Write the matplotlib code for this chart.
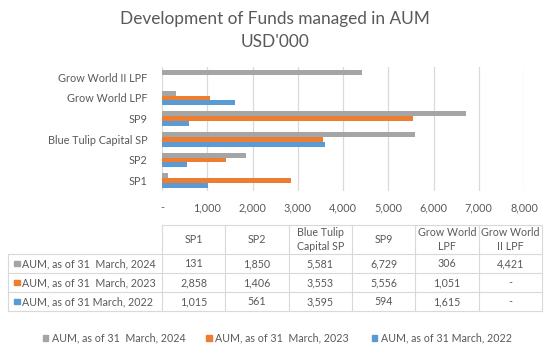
import matplotlib
matplotlib.use("Agg")
import matplotlib.pyplot as plt
from matplotlib.patches import Rectangle
import numpy as np

plt.rcParams['font.family'] = ['Lato', 'DejaVu Sans']

categories = ["SP1", "SP2", "Blue Tulip Capital SP", "SP9", "Grow World LPF", "Grow World II LPF"]
table_headers = ["SP1", "SP2", "Blue Tulip\nCapital SP", "SP9", "Grow World\nLPF", "Grow World\nII LPF"]
series_names = ["AUM, as of 31  March, 2024", "AUM, as of 31  March, 2023", "AUM, as of 31 March, 2022"]
aum_2024 = [131, 1850, 5581, 6729, 306, 4421]
aum_2023 = [2858, 1406, 3553, 5556, 1051, None]
aum_2022 = [1015, 561, 3595, 594, 1615, None]
colors = ["#A5A5A5", "#ED7D31", "#5B9BD5"]
xticks = [0, 1000, 2000, 3000, 4000, 5000, 6000, 7000, 8000]

series = [aum_2024, aum_2023, aum_2022]
TXT = "#595959"
GRID = "#D9D9D9"
W, H = 550, 351

fig = plt.figure(figsize=(W / 100, H / 100), dpi=100)

# main bar axes (pixel layout)
x0, x1, y0, y1 = 162, 524, 67, 191
ax = fig.add_axes([x0 / W, 1 - y1 / H, (x1 - x0) / W, (y1 - y0) / H])
y = np.arange(len(categories))
bh = 0.24
offsets = [bh, 0, -bh]
for vals, c, off in zip(series, colors, offsets):
    v = [0 if a is None else a for a in vals]
    ax.barh(y + off, v, height=bh, color=c, zorder=3)
ax.set_xlim(0, 8000)
ax.set_ylim(-0.5, len(categories) - 0.5)
ax.set_xticks(xticks)
ax.set_xticklabels(["-" if t == 0 else f"{t:,}" for t in xticks])
ax.set_yticks(y)
ax.set_yticklabels(categories)
ax.tick_params(axis='both', length=0, labelsize=7.8, colors=TXT)
ax.tick_params(axis='y', pad=10.5)
ax.tick_params(axis='x', pad=8)
ax.grid(axis='x', color=GRID, linewidth=0.9, zorder=0)
for s in ax.spines.values():
    s.set_visible(False)

# title
tcx = 275 / W
fig.text(tcx, 1 - 19 / H, "Development of Funds managed in AUM", ha='center', va='center',
         fontsize=12.4, color=TXT)
fig.text(tcx, 1 - 42 / H, "USD'000", ha='center', va='center',
         fontsize=12.4, color=TXT)

# overlay axes for table & legend in pixel coordinates
ov = fig.add_axes([0, 0, 1, 1])
ov.set_xlim(0, W)
ov.set_ylim(H, 0)
ov.axis('off')

tx0, tx1 = 162, 542
lx = 8
ncol = len(categories)
colw = (tx1 - tx0) / ncol
rows_y = [225, 254, 273, 292, 311]
lw = 0.8
ov.plot([tx0, tx1], [rows_y[0], rows_y[0]], color=GRID, lw=lw)
for ry in rows_y[1:]:
    ov.plot([lx, tx1], [ry, ry], color=GRID, lw=lw)
ov.plot([lx, lx], [rows_y[1], rows_y[-1]], color=GRID, lw=lw)
for i in range(ncol + 1):
    xx = tx0 + i * colw
    ov.plot([xx, xx], [rows_y[0], rows_y[-1]], color=GRID, lw=lw)

fs = 7.7
for i, h in enumerate(table_headers):
    ov.text(tx0 + (i + 0.5) * colw, (rows_y[0] + rows_y[1]) / 2, h, ha='center', va='center',
            fontsize=fs, color=TXT, linespacing=1.25)
for r, (name, vals, c) in enumerate(zip(series_names, series, colors)):
    cy = (rows_y[r + 1] + rows_y[r + 2]) / 2
    ov.add_patch(Rectangle((14.3, cy - 2.9), 5.7, 5.7, color=c))
    ov.text(22.5, cy, name, ha='left', va='center', fontsize=fs, color=TXT)
    for i, v in enumerate(vals):
        ov.text(tx0 + (i + 0.5) * colw, cy, "-" if v is None else f"{v:,}", ha='center', va='center',
                fontsize=fs, color=TXT)

# legend
leg_x = [42.7, 206, 371.7]
ly = 338
for name, c, lxp in zip(series_names, colors, leg_x):
    ov.add_patch(Rectangle((lxp, ly - 2.9), 5.7, 5.7, color=c))
    ov.text(lxp + 9, ly, name, ha='left', va='center', fontsize=fs, color=TXT)

fig.savefig("out.png", dpi=100)
